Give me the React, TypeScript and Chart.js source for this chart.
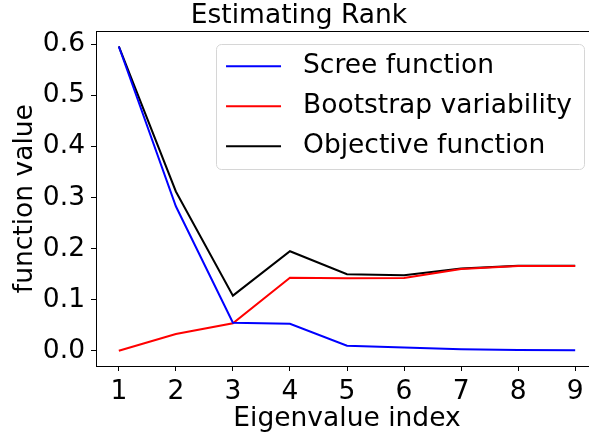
import React, { useEffect, useRef } from "react";
import { Chart, registerables } from "chart.js";

Chart.register(...registerables);

const eigenIndex = [1, 2, 3, 4, 5, 6, 7, 8, 9];
const screeValues = [0.596, 0.283, 0.055, 0.053, 0.010, 0.0065, 0.003, 0.0015, 0.001];
const bootstrapValues = [0.0, 0.033, 0.054, 0.143, 0.142, 0.1425, 0.160, 0.166, 0.166];
const objectiveValues = [0.596, 0.312, 0.108, 0.195, 0.150, 0.148, 0.161, 0.1665, 0.1665];
const yTickValues = [0.0, 0.1, 0.2, 0.3, 0.4, 0.5, 0.6];
const seriesLabels = ["Scree function", "Bootstrap variability", "Objective function"];
const seriesColors = ["#0000ff", "#ff0000", "#000000"];

const FONT = "'DejaVu Sans', sans-serif";
const FS = 26.5;

const allVals = [...screeValues, ...bootstrapValues, ...objectiveValues];
const dMin = Math.min(...allVals);
const dMax = Math.max(...allVals);
const yPad = (dMax - dMin) * 0.05;
const xPad = (eigenIndex[eigenIndex.length - 1] - eigenIndex[0]) * 0.05;

const framePlugin = {
  id: "frame",
  afterDatasetsDraw(chart: any) {
    const { ctx, chartArea } = chart;
    ctx.save();
    ctx.strokeStyle = "#000";
    ctx.lineWidth = 1;
    ctx.strokeRect(
      Math.round(chartArea.left) + 0.5,
      Math.round(chartArea.top) + 0.5,
      Math.round(chartArea.right - chartArea.left),
      Math.round(chartArea.bottom - chartArea.top)
    );
    ctx.restore();
  },
};

const legendPlugin = {
  id: "innerLegend",
  afterDraw(chart: any) {
    const { ctx, chartArea } = chart;
    const ds = chart.data.datasets;
    ctx.save();
    ctx.font = `${FS}px ${FONT}`;
    let maxW = 0;
    ds.forEach((d: any) => {
      maxW = Math.max(maxW, ctx.measureText(d.label).width);
    });
    const padL = 10, handle = 55, gap = 22, padR = 12;
    const rowH = 40;
    const w = padL + handle + gap + maxW + padR;
    const h = 22 + rowH * (ds.length - 1) + 23;
    const right = chartArea.right - 14;
    const top = chartArea.top + 13;
    const left = right - w;
    ctx.beginPath();
    (ctx as any).roundRect(Math.round(left) + 0.5, Math.round(top) + 0.5, Math.round(w), Math.round(h), 5);
    ctx.fillStyle = "rgba(255,255,255,0.8)";
    ctx.fill();
    ctx.strokeStyle = "#d6d6d6";
    ctx.lineWidth = 1;
    ctx.stroke();
    ds.forEach((d: any, i: number) => {
      const y = top + 22 + i * rowH;
      ctx.beginPath();
      ctx.strokeStyle = d.borderColor;
      ctx.lineWidth = 2;
      ctx.moveTo(left + padL, y);
      ctx.lineTo(left + padL + handle, y);
      ctx.stroke();
      ctx.fillStyle = "#000";
      ctx.textBaseline = "middle";
      ctx.textAlign = "left";
      ctx.fillText(d.label, left + padL + handle + gap, y);
    });
    ctx.restore();
  },
};

export default function App() {
  const ref = useRef<HTMLCanvasElement | null>(null);

  useEffect(() => {
    if (!ref.current) return;
    const seriesData = [screeValues, bootstrapValues, objectiveValues];
    const chart = new Chart(ref.current, {
      type: "line",
      data: {
        datasets: seriesData.map((vals, i) => ({
          label: seriesLabels[i],
          data: eigenIndex.map((x, j) => ({ x, y: vals[j] })),
          borderColor: seriesColors[i],
          backgroundColor: seriesColors[i],
          borderWidth: 2,
          pointRadius: 0,
          tension: 0,
          fill: false,
        })),
      },
      options: {
        responsive: false,
        animation: false,
        devicePixelRatio: 1,
        layout: { padding: { left: 0, right: 2, top: 0, bottom: 0 } },
        plugins: {
          legend: { display: false },
          tooltip: { enabled: false },
          title: {
            display: true,
            text: "Estimating Rank",
            color: "#000",
            font: { family: FONT, size: FS, weight: "normal" as any, lineHeight: 1.18 },
            padding: { top: 0, bottom: 0 },
          },
        },
        scales: {
          x: {
            type: "linear",
            min: eigenIndex[0] - xPad,
            max: eigenIndex[eigenIndex.length - 1] + xPad,
            afterBuildTicks: (scale: any) => {
              scale.ticks = eigenIndex.map((v) => ({ value: v }));
            },
            afterFit: (scale: any) => {
              scale.height = 68;
            },
            ticks: {
              color: "#000",
              font: { family: FONT, size: FS },
              padding: 5,
              maxRotation: 0,
              autoSkip: false,
              callback: (v: any) => String(v),
            },
            grid: {
              display: true,
              drawOnChartArea: false,
              drawTicks: true,
              tickLength: 5,
              color: "#000",
              lineWidth: 1,
            },
            border: { display: false },
            title: {
              display: true,
              text: "Eigenvalue index",
              color: "#000",
              font: { family: FONT, size: FS, lineHeight: 1.15 },
              padding: { top: 0, bottom: 0 },
            },
          },
          y: {
            type: "linear",
            min: dMin - yPad,
            max: dMax + yPad,
            afterBuildTicks: (scale: any) => {
              scale.ticks = yTickValues.map((v) => ({ value: v }));
            },
            afterFit: (scale: any) => {
              scale.width = 96;
            },
            ticks: {
              color: "#000",
              font: { family: FONT, size: FS },
              padding: 6,
              autoSkip: false,
              callback: (v: any) => Number(v).toFixed(1),
            },
            grid: {
              display: true,
              drawOnChartArea: false,
              drawTicks: true,
              tickLength: 5,
              color: "#000",
              lineWidth: 1,
            },
            border: { display: false },
            title: {
              display: true,
              text: "function value",
              color: "#000",
              font: { family: FONT, size: FS, lineHeight: 1.2 },
              padding: { top: 9, bottom: 0 },
            },
          },
        },
      },
      plugins: [framePlugin, legendPlugin],
    });
    return () => chart.destroy();
  }, []);

  return (
    <div
      style={{
        position: "fixed",
        left: 0,
        top: 0,
        width: 589,
        height: 434,
        overflow: "hidden",
        background: "#fff",
      }}
    >
      <canvas ref={ref} width={600} height={434} style={{ display: "block", width: 600, height: 434 }} />
    </div>
  );
}
